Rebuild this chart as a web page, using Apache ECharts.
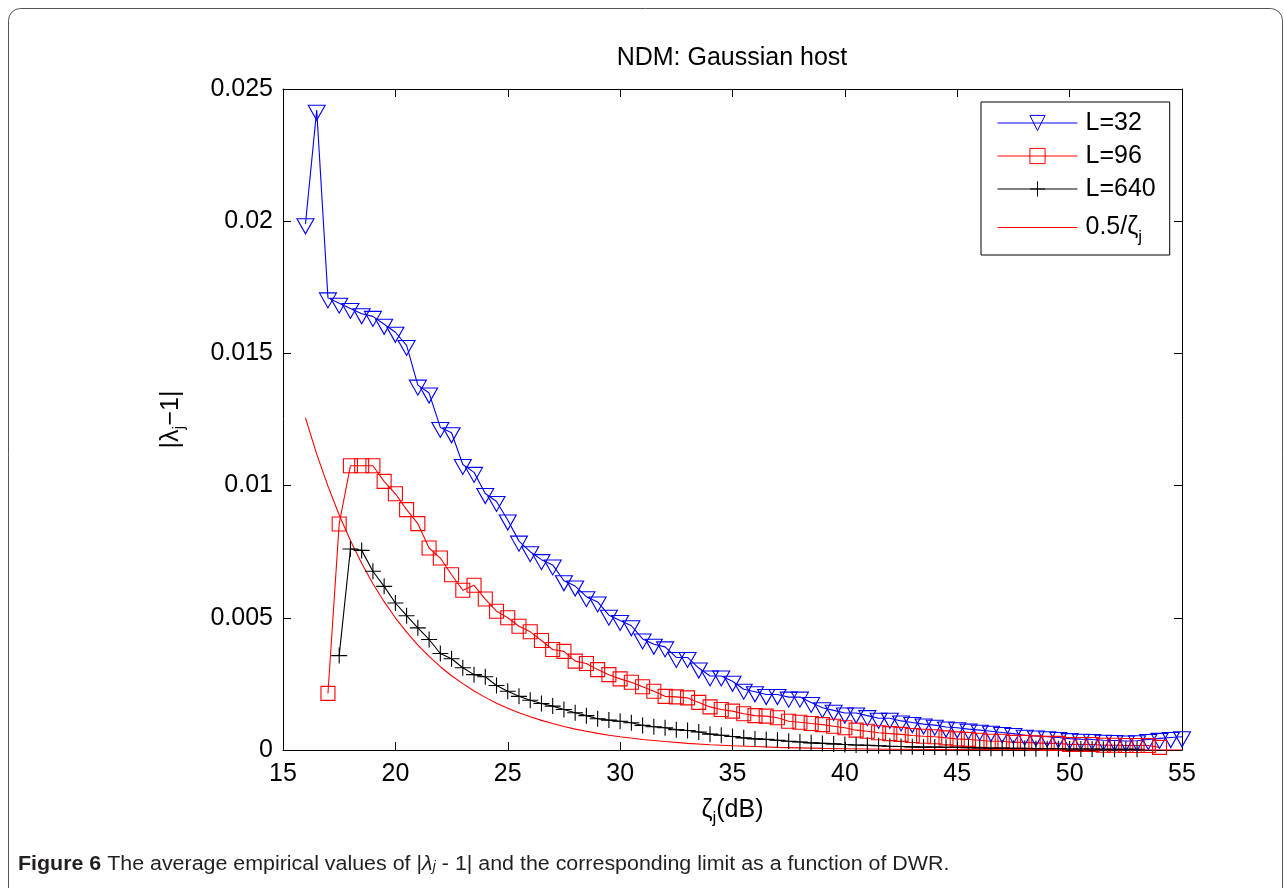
<!DOCTYPE html>
<html>
<head>
<meta charset="utf-8">
<script src="https://cdn.jsdelivr.net/npm/echarts@6/dist/echarts.min.js"></script>
<style>
  html, body { margin: 0; padding: 0; background: #fff; }
  #chart { width: 1284px; height: 888px; }
</style>
</head>
<body>
<div id="chart"></div>
<script>
// values (zeta_j in dB, |lambda_j - 1|)
const xL32 = [16, 16.5, 17, 17.5, 18, 18.5, 19, 19.5, 20, 20.5, 21, 21.5, 22, 22.5, 23, 23.5, 24, 24.5, 25, 25.5,
  26, 26.5, 27, 27.5, 28, 28.5, 29, 29.5, 30, 30.5, 31, 31.5, 32, 32.5, 33, 33.5, 34, 34.5, 35, 35.5,
  36, 36.5, 37, 37.5, 38, 38.5, 39, 39.5, 40, 40.5, 41, 41.5, 42, 42.5, 43, 43.5, 44, 44.5, 45, 45.5,
  46, 46.5, 47, 47.5, 48, 48.5, 49, 49.5, 50, 50.5, 51, 51.5, 52, 52.5, 53, 53.5, 54, 54.5, 55]
const yL32 = [0.0199, 0.0242, 0.0171, 0.0169, 0.0167, 0.0165, 0.0164, 0.0161, 0.0158, 0.0153, 0.0138, 0.0135, 0.0122, 0.0120, 0.0108, 0.0105, 0.0097, 0.0094, 0.0087, 0.0079,
  0.0075, 0.0072, 0.0070, 0.0064, 0.0062, 0.0058, 0.0056, 0.0051, 0.0049, 0.0047, 0.0042, 0.0040, 0.0039, 0.0035, 0.0035, 0.0031, 0.0028, 0.0028, 0.0026, 0.0023,
  0.0022, 0.0021, 0.0021, 0.0020, 0.0020, 0.0018, 0.0016, 0.0015, 0.0014, 0.0014, 0.0013, 0.0012, 0.0012, 0.0011, 0.00104, 0.00098, 0.00094, 0.00087, 0.00084, 0.00079,
  0.00075, 0.00071, 0.00066, 0.00062, 0.00056, 0.00053, 0.00050, 0.00047, 0.00043, 0.00041, 0.00040, 0.00037, 0.00036, 0.00034, 0.00035, 0.00040, 0.00044, 0.00047, 0.00050]

const xL96 = [17, 17.5, 18, 18.5, 19, 19.5, 20, 20.5, 21, 21.5, 22, 22.5, 23, 23.5, 24, 24.5, 25, 25.5,
  26, 26.5, 27, 27.5, 28, 28.5, 29, 29.5, 30, 30.5, 31, 31.5, 32, 32.5, 33, 33.5, 34, 34.5, 35, 35.5,
  36, 36.5, 37, 37.5, 38, 38.5, 39, 39.5, 40, 40.5, 41, 41.5, 42, 42.5, 43, 43.5, 44, 44.5, 45, 45.5,
  46, 46.5, 47, 47.5, 48, 48.5, 49, 49.5, 50, 50.5, 51, 51.5, 52, 52.5, 53, 53.5, 54]
const yL96 = [0.00214, 0.00855, 0.01075, 0.01075, 0.01075, 0.01016, 0.00969, 0.00909, 0.00856, 0.00764, 0.00726, 0.00663, 0.00604, 0.00623, 0.00571, 0.00525, 0.00500, 0.00468,
  0.00447, 0.00414, 0.00380, 0.00373, 0.00336, 0.00327, 0.00304, 0.00285, 0.00269, 0.00256, 0.00239, 0.00222, 0.00203, 0.00201, 0.00197, 0.00180, 0.00163, 0.00153, 0.00147, 0.00137,
  0.00130, 0.00128, 0.00122, 0.00109, 0.00105, 0.00100, 0.00096, 0.00090, 0.00084, 0.00075, 0.00071, 0.00065, 0.00062, 0.00059, 0.00055, 0.00052, 0.00050, 0.00046, 0.00042, 0.00040,
  0.00037, 0.00033, 0.00033, 0.00029, 0.00029, 0.00027, 0.00025, 0.00025, 0.00021, 0.00021, 0.00021, 0.00018, 0.00018, 0.00017, 0.00017, 0.00017, 0.00010]

const xL640 = [17.5, 18, 18.5, 19, 19.5, 20, 20.5, 21, 21.5, 22, 22.5, 23, 23.5, 24, 24.5, 25, 25.5,
  26, 26.5, 27, 27.5, 28, 28.5, 29, 29.5, 30, 30.5, 31, 31.5, 32, 32.5, 33, 33.5, 34, 34.5, 35, 35.5,
  36, 36.5, 37, 37.5, 38, 38.5, 39, 39.5, 40, 40.5, 41, 41.5, 42, 42.5, 43, 43.5, 44, 44.5, 45, 45.5,
  46, 46.5, 47, 47.5, 48, 48.5, 49, 49.5, 50, 50.5, 51, 51.5, 52, 52.5, 53]
const yL640 = [0.00357, 0.00760, 0.00755, 0.00676, 0.00619, 0.00556, 0.00508, 0.00462, 0.00418, 0.00365, 0.00345, 0.00311, 0.00285, 0.00277, 0.00244, 0.00222, 0.00203,
  0.00188, 0.00176, 0.00166, 0.00153, 0.00141, 0.00130, 0.00118, 0.00113, 0.00109, 0.00103, 0.00093, 0.00088, 0.00084, 0.00077, 0.00074, 0.00068, 0.00060, 0.00056, 0.00051, 0.00046,
  0.00042, 0.00040, 0.00037, 0.00033, 0.00030, 0.00027, 0.00025, 0.00023, 0.00021, 0.00019, 0.00018, 0.00016, 0.00014, 0.00013, 0.00012, 0.00011, 0.00011, 0.00010, 0.00010, 0.00009,
  0.00008, 0.00007, 0.00007, 0.00006, 0.00006, 0.00005, 0.00005, 0.00005, 0.00004, 0.00004, 0.00004, 0.00003, 0.00003, 0.00003, 0.00003]

// the 0.5/zeta_j limit curve, read at these points
const xLimit = [16, 16.5, 17, 17.5, 18, 18.5, 19, 19.5, 20, 20.5, 21, 21.5, 22, 22.5, 23, 23.5, 24, 24.5, 25, 25.5,
  26, 26.5, 27, 27.5, 28, 28.5, 29, 29.5, 30, 31, 32, 33, 34, 35, 36, 37, 38, 39, 40, 42, 44, 46, 48, 50, 52, 55]
const yLimit = [0.01256, 0.01119, 0.00998, 0.00889, 0.00792, 0.00706, 0.00629, 0.00561, 0.00500, 0.00446, 0.00397, 0.00354, 0.00315, 0.00281, 0.00251, 0.00223, 0.00199, 0.00177, 0.00158, 0.00141,
  0.00126, 0.00112, 0.00100, 0.00089, 0.00079, 0.00071, 0.00063, 0.00056, 0.00050, 0.00040, 0.00032, 0.00025, 0.00020, 0.00016, 0.00013, 0.00010, 0.00008, 0.00006, 0.00005, 0.00003,
  0.00002, 0.000013, 0.000008, 0.000005, 0.000003, 0.0000016]

const seriesNames = ['L=32', 'L=96', 'L=640', '0.5/ζj']
const xTicks = { min: 15, max: 55, step: 5 }
const yTicks = { min: 0, max: 0.025, step: 0.005 }

const FONT = "'Liberation Sans', Arial, Helvetica, sans-serif"
const CLEAR = 'rgba(0,0,0,0)'

function pairs(xs, ys) {
  return xs.map((x, i) => [x, ys[i]])
}

const chart = echarts.init(document.getElementById('chart'))

const axisLine = { show: true, onZero: false, lineStyle: { color: '#000', width: 1 } }
const axisTick = { show: true, inside: true, length: 8, lineStyle: { color: '#000', width: 1 } }
const tickFont = { fontFamily: FONT, fontSize: 25, color: '#000' }
const nameRich = {
  a: { fontFamily: FONT, fontSize: 25, color: '#000', lineHeight: 34, verticalAlign: 'middle' },
  s: { fontFamily: FONT, fontSize: 17, color: '#000', lineHeight: 18, verticalAlign: 'bottom' }
}

const option = {
  animation: false,
  backgroundColor: '#fff',
  grid: { left: 283, right: 102, top: 89, bottom: 138, outerBoundsMode: 'none' },
  xAxis: [
    {
      type: 'value', min: xTicks.min, max: xTicks.max, interval: xTicks.step, position: 'bottom',
      axisLine, axisTick, splitLine: { show: false },
      axisLabel: { ...tickFont, margin: 12 },
      name: '{a|ζ}{s|j}{a|(dB)}', nameLocation: 'middle', nameGap: 43, nameMoveOverlap: false,
      nameTextStyle: { fontFamily: FONT, color: '#000', rich: nameRich }
    },
    {
      type: 'value', min: xTicks.min, max: xTicks.max, interval: xTicks.step, position: 'top',
      axisLine, axisTick, splitLine: { show: false }, axisLabel: { show: false }
    }
  ],
  yAxis: [
    {
      type: 'value', min: yTicks.min, max: yTicks.max, interval: yTicks.step, position: 'left',
      axisLine, axisTick, splitLine: { show: false },
      axisLabel: { ...tickFont, margin: 10 },
      name: '{a||λ}{s|j}{a|−1|}', nameLocation: 'middle', nameRotate: 90, nameGap: 95, nameMoveOverlap: false,
      nameTextStyle: { fontFamily: FONT, color: '#000', rich: nameRich }
    },
    {
      type: 'value', min: yTicks.min, max: yTicks.max, interval: yTicks.step, position: 'right',
      axisLine, axisTick, splitLine: { show: false }, axisLabel: { show: false }
    }
  ],
  legend: {
    orient: 'vertical', left: 981, top: 102,
    padding: [8, 14, 9, 16],
    itemWidth: 80, itemHeight: 19, itemGap: 7,
    backgroundColor: '#fff', borderColor: '#000', borderWidth: 1, borderRadius: 0,
    itemStyle: { borderWidth: 1 },
    lineStyle: { width: 1 },
    data: [
      seriesNames[0], seriesNames[1], seriesNames[2],
      { name: seriesNames[3], itemStyle: { color: CLEAR, borderColor: CLEAR, borderWidth: 0 } }
    ],
    formatter: name => name === '0.5/ζj' ? '{a|0.5/ζ}{s|j}' : name,
    textStyle: {
      fontFamily: FONT, fontSize: 25, color: '#000', lineHeight: 26, padding: [0, 0, 0, 3],
      rich: {
        a: { fontFamily: FONT, fontSize: 25, color: '#000', lineHeight: 37, verticalAlign: 'middle' },
        s: { fontFamily: FONT, fontSize: 17, color: '#000', lineHeight: 21, verticalAlign: 'bottom' }
      }
    }
  },
  graphic: [
    {
      type: 'rect', silent: true, z: -1,
      shape: { x: 8.5, y: 8.5, width: 1274, height: 900, r: 12 },
      style: { fill: 'none', stroke: '#555', lineWidth: 1 }
    },
    {
      type: 'text', x: 732, y: 58, silent: true,
      style: { text: 'NDM: Gaussian host', fontFamily: FONT, fontSize: 25, fill: '#000', align: 'center', verticalAlign: 'middle' }
    },
    {
      type: 'text', x: 18, y: 864, scaleX: 1.07, silent: true,
      style: {
        text: '{b|Figure 6} The average empirical values of |{i|λ}{is|j} - 1| and the corresponding limit as a function of DWR.',
        fontFamily: FONT, fontSize: 20, fill: '#231f20', align: 'left', verticalAlign: 'middle',
        rich: {
          b: { fontFamily: FONT, fontSize: 20, fontWeight: 'bold', fill: '#231f20' },
          i: { fontFamily: FONT, fontSize: 20, fontStyle: 'italic', fill: '#231f20' },
          is: { fontFamily: FONT, fontSize: 14, fontStyle: 'italic', fill: '#231f20', lineHeight: 14, verticalAlign: 'bottom' }
        }
      }
    }
  ],
  series: [
    {
      name: seriesNames[0], type: 'line', data: pairs(xL32, yL32),
      symbol: 'path://M0,0L16,0L8,14Z', symbolSize: [17, 15], symbolOffset: [0, 2.5],
      lineStyle: { color: '#0000ff', width: 1.1 },
      itemStyle: { color: CLEAR, borderColor: '#0000ff', borderWidth: 1.1 },
      emphasis: { disabled: true }
    },
    {
      name: seriesNames[1], type: 'line', data: pairs(xL96, yL96),
      symbol: 'rect', symbolSize: 14,
      lineStyle: { color: '#ff0000', width: 1.1 },
      itemStyle: { color: CLEAR, borderColor: '#ff0000', borderWidth: 1.1 },
      emphasis: { disabled: true }
    },
    {
      name: seriesNames[2], type: 'line', data: pairs(xL640, yL640),
      symbol: 'path://M8,0L8,16M0,8L16,8', symbolSize: 16,
      lineStyle: { color: '#000', width: 1.1 },
      itemStyle: { color: CLEAR, borderColor: '#000', borderWidth: 1.1 },
      emphasis: { disabled: true }
    },
    {
      name: seriesNames[3], type: 'line', data: pairs(xLimit, yLimit),
      symbol: 'none', smooth: false,
      lineStyle: { color: '#ff0000', width: 1.1 },
      itemStyle: { color: CLEAR, borderColor: CLEAR, borderWidth: 0 },
      emphasis: { disabled: true }
    }
  ]
}

chart.setOption(option)
</script>
</body>
</html>
